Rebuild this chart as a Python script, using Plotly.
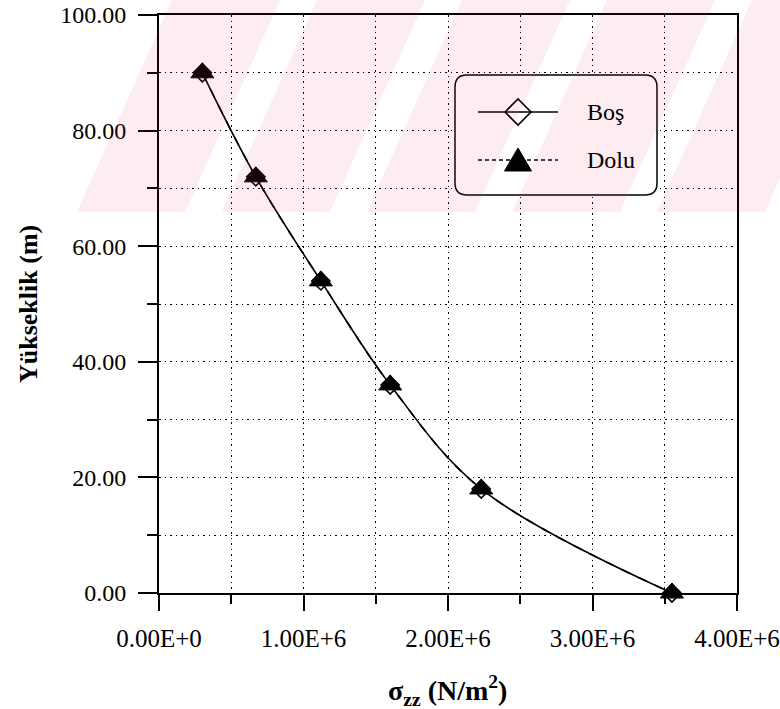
import plotly.graph_objects as go

# Stress along the height of the structure, empty (Boş) and full (Dolu) cases
stress_bos = [0.30e6, 0.67e6, 1.12e6, 1.60e6, 2.23e6, 3.55e6]
height_bos = [90.0, 72.0, 54.0, 36.0, 18.0, 0.0]
stress_dolu = [0.30e6, 0.67e6, 1.12e6, 1.60e6, 2.23e6, 3.55e6]
height_dolu = [90.0, 72.0, 54.0, 36.0, 18.0, 0.0]

x_tick_vals = [0, 1e6, 2e6, 3e6, 4e6]
x_tick_text = ["0.00E+0", "1.00E+6", "2.00E+6", "3.00E+6", "4.00E+6"]
y_tick_vals = [0, 20, 40, 60, 80, 100]
y_tick_text = ["0.00", "20.00", "40.00", "60.00", "80.00", "100.00"]

W, H = 780, 709
L, R, T, B = 159, 43, 15, 116
PW, PH = W - L - R, H - T - B
FONT = "Liberation Serif"


def px(x):
    return (x - L) / PW


def py(y):
    return (H - B - y) / PH


fig = go.Figure()

fig.add_trace(go.Scatter(
    x=stress_bos, y=height_bos, name="Boş", mode="lines+markers",
    line=dict(color="black", width=1.6, shape="spline", smoothing=1.0),
    marker=dict(symbol="diamond-open", size=14, color="black", line=dict(width=1.6)),
    cliponaxis=False, showlegend=False,
))
fig.add_trace(go.Scatter(
    x=stress_dolu, y=height_dolu, name="Dolu", mode="lines+markers",
    line=dict(color="black", width=1.6, dash="dash", shape="spline", smoothing=1.0),
    marker=dict(symbol="triangle-up", size=20, color="black", line=dict(width=1, color="black")),
    cliponaxis=False, showlegend=False,
))

DOTS = "1.5px,4px"
grid = dict(showgrid=True, gridcolor="black", gridwidth=1.2, griddash=DOTS)

fig.update_xaxes(
    range=[0, 4e6], tickvals=x_tick_vals, ticktext=x_tick_text,
    ticks="outside", ticklen=16, tickwidth=1.5, tickcolor="black",
    ticklabelstandoff=6, automargin=False,
    showline=True, linecolor="black", linewidth=2, mirror=True,
    zeroline=False, **grid,
    minor=dict(dtick=0.5e6, ticks="outside", ticklen=9, tickwidth=1.5, tickcolor="black",
               showgrid=True, gridcolor="black", gridwidth=1.2, griddash=DOTS),
    tickfont=dict(family=FONT, size=25, color="black"),
)
fig.update_yaxes(
    range=[0, 100], tickvals=y_tick_vals, ticktext=y_tick_text,
    ticks="outside", ticklen=19, tickwidth=1.5, tickcolor="black",
    ticklabelstandoff=7, automargin=False,
    showline=True, linecolor="black", linewidth=2, mirror=True,
    zeroline=False, **grid,
    minor=dict(dtick=10, ticks="outside", ticklen=10, tickwidth=1.5, tickcolor="black",
               showgrid=True, gridcolor="black", gridwidth=1.2, griddash=DOTS),
    tickfont=dict(family=FONT, size=24, color="black"),
)

shapes = []

# Legend frame with rounded corners
bx0, bx1, by0, by1, rr = 455, 657, 75, 195, 12
frame = (
    f"M {px(bx0 + rr)} {py(by0)} L {px(bx1 - rr)} {py(by0)} "
    f"Q {px(bx1)} {py(by0)} {px(bx1)} {py(by0 + rr)} "
    f"L {px(bx1)} {py(by1 - rr)} Q {px(bx1)} {py(by1)} {px(bx1 - rr)} {py(by1)} "
    f"L {px(bx0 + rr)} {py(by1)} Q {px(bx0)} {py(by1)} {px(bx0)} {py(by1 - rr)} "
    f"L {px(bx0)} {py(by0 + rr)} Q {px(bx0)} {py(by0)} {px(bx0 + rr)} {py(by0)} Z"
)
shapes.append(dict(type="path", path=frame, xref="paper", yref="paper",
                   fillcolor="white", line=dict(color="black", width=1.5), layer="above"))

# Legend samples
r1, r2, sx0, sx1, cx = 112, 160, 478, 558, 518
shapes.append(dict(type="line", xref="paper", yref="paper",
                   x0=px(sx0), x1=px(sx1), y0=py(r1), y1=py(r1),
                   line=dict(color="black", width=1.6), layer="above"))
shapes.append(dict(type="line", xref="paper", yref="paper",
                   x0=px(sx0), x1=px(sx1), y0=py(r2), y1=py(r2),
                   line=dict(color="black", width=1.6, dash="4px,3px"), layer="above"))
d = 13
shapes.append(dict(type="path", xref="paper", yref="paper",
                   path=(f"M {px(cx - d)} {py(r1)} L {px(cx)} {py(r1 - d)} "
                         f"L {px(cx + d)} {py(r1)} L {px(cx)} {py(r1 + d)} Z"),
                   line=dict(color="black", width=1.6), layer="above"))
shapes.append(dict(type="path", xref="paper", yref="paper",
                   path=(f"M {px(cx - 13.5)} {py(r2 + 11)} L {px(cx + 13.5)} {py(r2 + 11)} "
                         f"L {px(cx)} {py(r2 - 12)} Z"),
                   fillcolor="black", line=dict(color="black", width=1), layer="above"))

# Faint diagonal watermark bands across the top
for k in range(6):
    b0 = 77 + 145 * k
    shapes.append(dict(
        type="path", xref="paper", yref="paper",
        path=(f"M {px(b0)} {py(212)} L {px(b0 + 108)} {py(212)} "
              f"L {px(b0 + 203)} {py(0)} L {px(b0 + 95)} {py(0)} Z"),
        fillcolor="rgba(235,60,100,0.09)", line=dict(width=0), layer="above"))

annotations = [
    dict(text="Boş", x=px(585), y=py(r1), xref="paper", yref="paper",
         xanchor="left", yanchor="middle", showarrow=False,
         font=dict(family=FONT, size=24, color="black")),
    dict(text="Dolu", x=px(585), y=py(r2), xref="paper", yref="paper",
         xanchor="left", yanchor="middle", showarrow=False,
         font=dict(family=FONT, size=24, color="black")),
    dict(text="<b>Yükseklik (m)</b>", x=px(28), y=py(304), xref="paper", yref="paper",
         xanchor="center", yanchor="middle", textangle=-90, showarrow=False,
         font=dict(family=FONT, size=26, color="black")),
    dict(text="<b>σ<sub>zz</sub> (N/m<sup>2</sup>)</b>", x=px(447), y=py(690),
         xref="paper", yref="paper", xanchor="center", yanchor="middle", showarrow=False,
         font=dict(family=FONT, size=28, color="black")),
]

fig.update_layout(
    width=W, height=H,
    margin=dict(l=L, r=R, t=T, b=B, pad=0, autoexpand=False),
    paper_bgcolor="white", plot_bgcolor="rgba(0,0,0,0)",
    shapes=shapes, annotations=annotations, showlegend=False,
)

fig.write_html("out.html")
